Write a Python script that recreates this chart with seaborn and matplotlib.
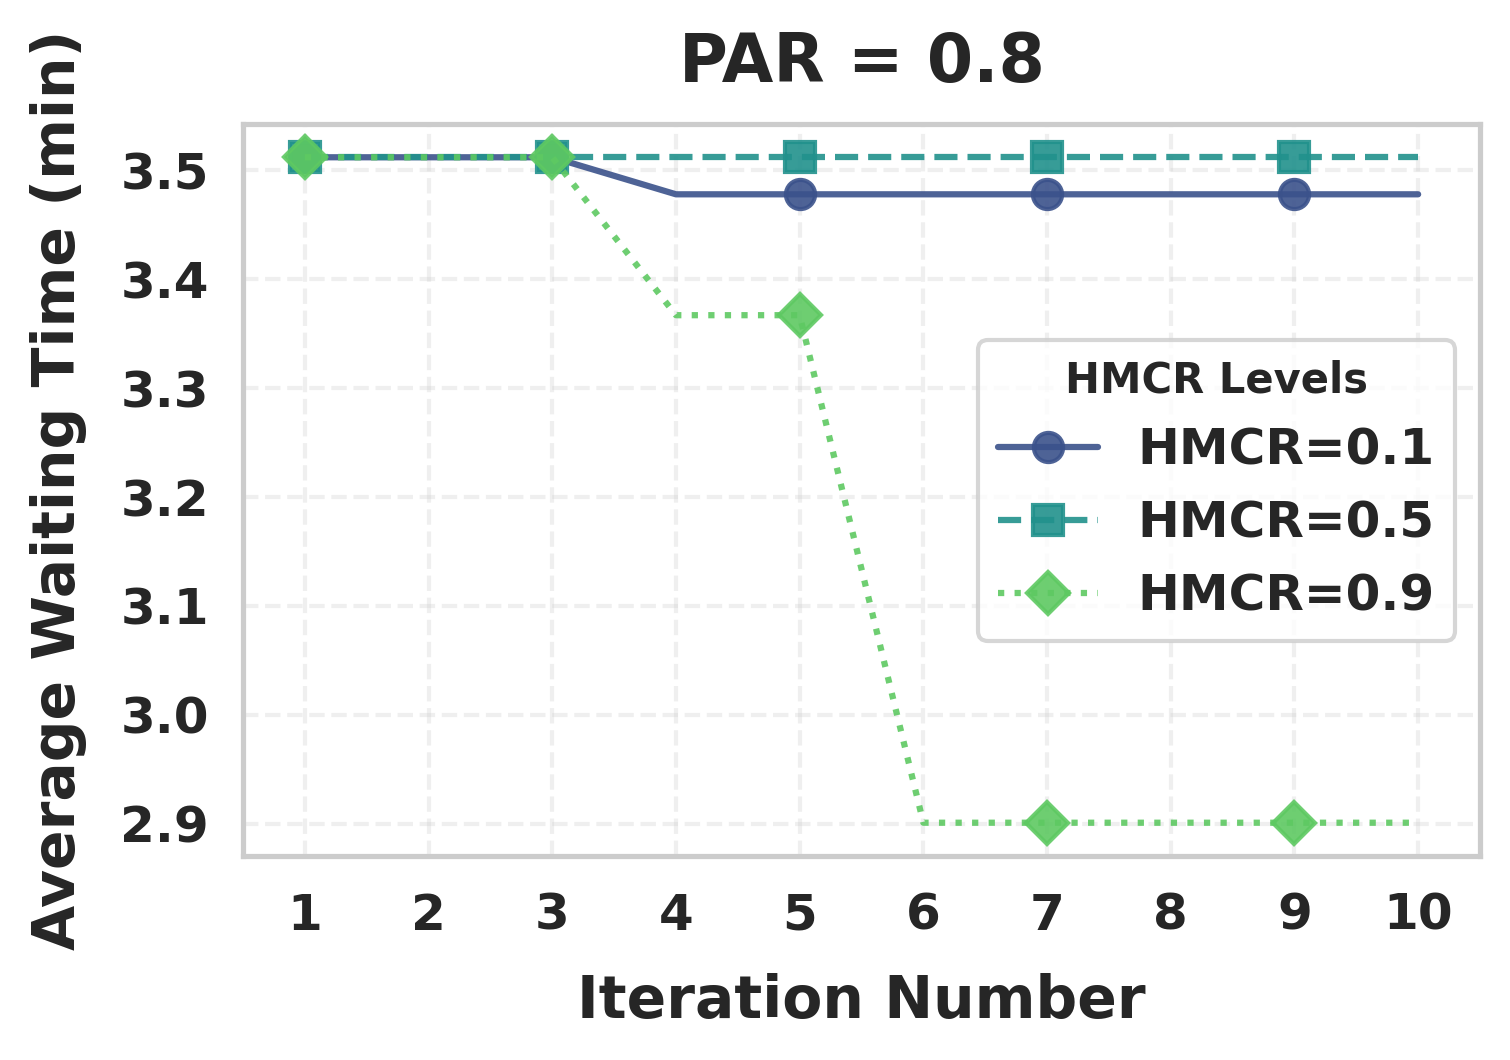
import pandas as pd
import seaborn as sns
import matplotlib.pyplot as plt

# data
iterations = [1, 2, 3, 4, 5, 6, 7, 8, 9, 10]
hmcr_01 = [3.512, 3.512, 3.512, 3.478, 3.478, 3.478, 3.478, 3.478, 3.478, 3.478]
hmcr_05 = [3.512, 3.512, 3.512, 3.512, 3.512, 3.512, 3.512, 3.512, 3.512, 3.512]
hmcr_09 = [3.512, 3.512, 3.512, 3.367, 3.367, 2.901, 2.901, 2.901, 2.901, 2.901]
series_labels = ["HMCR=0.1", "HMCR=0.5", "HMCR=0.9"]

sns.set_theme(style="whitegrid")
plt.rcParams['font.family'] = ['DejaVu Sans']

palette = sns.color_palette("viridis", 3)
markers = ['o', 's', 'D']
linestyles = ['-', '--', ':']

fig = plt.figure(figsize=(1510 / 300, 1060 / 300), dpi=300)
ax = fig.add_axes([243 / 1510, 1 - 856 / 1060, (1480 - 243) / 1510, (856 - 124) / 1060])

for values, label, color, marker, ls in zip([hmcr_01, hmcr_05, hmcr_09], series_labels,
                                            palette, markers, linestyles):
    df = pd.DataFrame({"Iteration": iterations, "Time": values})
    sns.lineplot(data=df, x="Iteration", y="Time", ax=ax, color=color, label=label,
                 marker=marker, linestyle=ls, linewidth=1.5, markersize=7,
                 markeredgecolor=color, markeredgewidth=1,
                 markevery=2, alpha=0.9)

ax.set_xlim(0.5, 10.5)
ax.set_xticks(iterations)
ax.grid(True, linestyle='--', alpha=0.3)
ax.tick_params(axis='x', pad=plt.rcParams['xtick.major.pad'] - 0.9)
ax.tick_params(axis='y', pad=plt.rcParams['ytick.major.pad'] - 1.4)

ax.set_title("PAR = 0.8", fontsize=16, fontweight='bold', pad=10)
ax.set_xlabel("Iteration Number", fontsize=14, fontweight='bold', labelpad=8)
ax.set_ylabel("Average Waiting Time (min)", fontsize=14, fontweight='bold', labelpad=8)
for lbl in ax.get_xticklabels() + ax.get_yticklabels():
    lbl.set_fontsize(12)
    lbl.set_fontweight('bold')

leg = ax.legend(title="HMCR Levels", loc='center right', fontsize=12,
                title_fontproperties={'weight': 'bold', 'size': 10})
for t in leg.get_texts():
    t.set_fontweight('bold')

fig.savefig("out.png", dpi=300)
